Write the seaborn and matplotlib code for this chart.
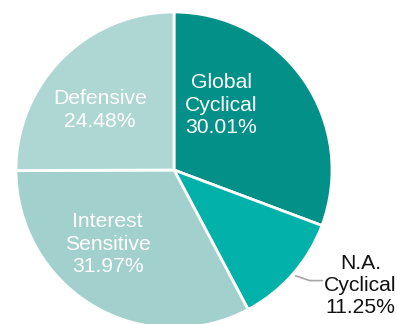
import matplotlib
matplotlib.use("Agg")
import matplotlib.pyplot as plt
import seaborn as sns

categories = ["Global\nCyclical", "N.A.\nCyclical", "Interest\nSensitive", "Defensive"]
values = [30.01, 11.25, 31.97, 24.48]
colors = ["#039088", "#02B2AA", "#A2D1CD", "#AED7D3"]
text_colors = ["white", "#111111", "white", "white"]
label_pos = [(0.30, 0.41), (1.18, -0.73), (-0.42, -0.47), (-0.47, 0.38)]

sns.set_theme(style="white")
plt.rcParams["font.family"] = ["Liberation Sans", "DejaVu Sans"]

fig = plt.figure(figsize=(3.97, 3.24), dpi=100)
W, H = 397, 324
cx, cy, r = 174, 170, 158
ax = fig.add_axes([(cx - r) / W, (H - cy - r) / H, 2 * r / W, 2 * r / H])

wedges, _ = ax.pie(values, colors=colors, startangle=90, counterclock=False,
                   wedgeprops=dict(edgecolor="white", linewidth=2.0))
ax.set_xlim(-1, 1)
ax.set_ylim(-1, 1)
ax.set_aspect("equal")
ax.axis("off")

for cat, v, (x, y), tc in zip(categories, values, label_pos, text_colors):
    ax.text(x, y, f"{cat}\n{v:.2f}%", ha="center", va="center", color=tc,
            fontsize=15.2, linespacing=1.22, clip_on=False)

# leader line for N.A. Cyclical
ax.plot([0.77, 0.86, 0.94], [-0.67, -0.70, -0.70], color="#A6A6A6", lw=1.2,
        clip_on=False)

fig.savefig("out.png", dpi=100)
